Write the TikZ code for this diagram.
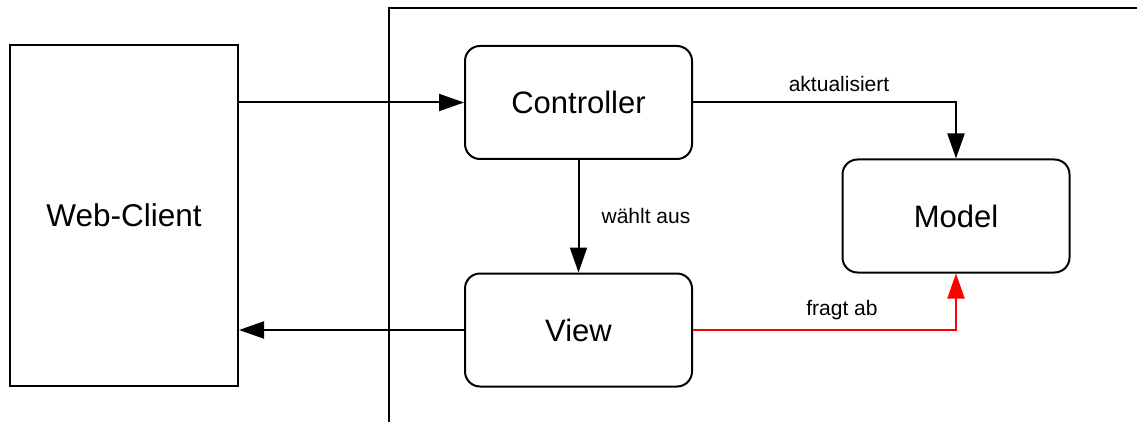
\documentclass[tikz,border=0pt]{standalone}
\usepackage{fontspec}
\setmainfont{Liberation Sans}
\usetikzlibrary{arrows.meta}
\begin{document}
\begin{tikzpicture}[x=1pt,y=-1pt,
  line width=2pt,
  box/.style={draw, rounded corners=15pt, minimum width=227pt, minimum height=113pt,
    inner sep=0pt, font=\fontsize{31}{36}\selectfont},
  client/.style={draw, minimum width=228pt, minimum height=341pt, inner sep=0pt,
    font=\fontsize{31.5}{36}\selectfont},
  lbl/.style={inner sep=0pt, font=\fontsize{21}{25}\selectfont},
  arr/.style={-{Triangle[length=25pt,width=17pt]}},
  query/.style={arr, color=red}
]
\useasboundingbox (0,0) rectangle (1137,422);

% server frame
\draw (1137,8) -- (389,8) -- (389,422);

% components
\node[client] (web) at (124,215.5) {Web-Client};
\node[box] (ctrl) at (578.5,102.5) {Controller};
\node[box] (model) at (956,216) {Model};
\node[box] (view) at (578.5,330) {View};

% connectors
\draw[arr] (web.east |- ctrl.west) -- (ctrl.west);
\draw[arr] (view.west) -- (view.west -| web.east);
\draw[arr] (ctrl.south) -- (view.north);
\draw[arr] (ctrl.east) -| (model.north);
\draw[query] (view.east) -| (model.south);

% connector labels
\node[lbl] (lblupd) at (839,84) {aktualisiert};
\node[lbl] (lblsel) at (646,216) {wählt aus};
\node[lbl] (lblask) at (842,310) {fragt ab};
\end{tikzpicture}
\end{document}
